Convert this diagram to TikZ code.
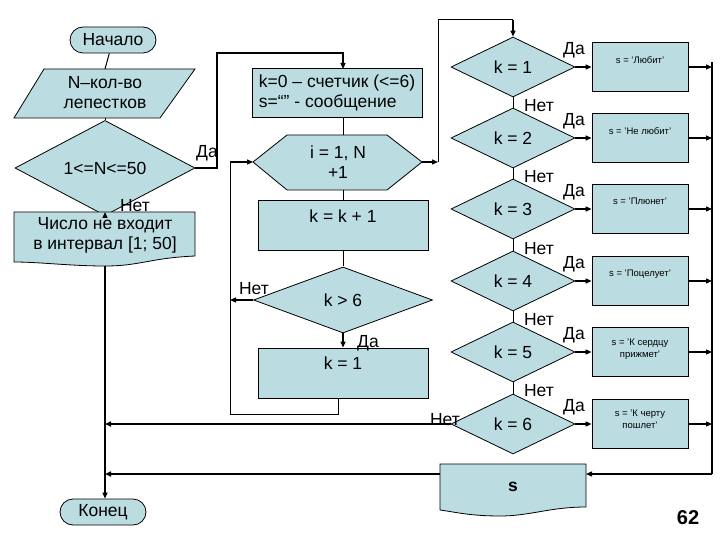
\documentclass[tikz,border=0pt]{standalone}
\usepackage{fontspec}
\setmainfont{Liberation Sans}
\usetikzlibrary{shapes.geometric,arrows.meta}
\definecolor{fl}{RGB}{187,221,226}
\begin{document}
\begin{tikzpicture}[x=1pt,y=-1pt,
  txt/.style={font=\fontsize{17.5}{20}\selectfont,align=center,inner sep=0},
  sm/.style={font=\fontsize{9.5}{12}\selectfont,align=center,inner sep=0},
  lab/.style={font=\fontsize{17.5}{20}\selectfont,inner sep=0},
  box/.style={draw,fill=fl,line width=0.8pt,minimum width=#1,minimum height=49,inner sep=0},
  dia/.style={draw,fill=fl,diamond,line width=0.8pt,minimum width=124,minimum height=60,inner sep=0,font=\fontsize{17.5}{20}\selectfont},
  term/.style={draw,fill=fl,rounded corners=13,line width=0.8pt,minimum width=86,minimum height=26,font=\fontsize{17.5}{20}\selectfont},
  ln/.style={line width=1pt},
  ar/.style={line width=1.3pt,-{Triangle[length=6pt,width=5pt]}}]
\useasboundingbox (0,0) rectangle (720,540);
\fill[white] (0,0) rectangle (720,540);
% left column
\node[term] (start) at (113,40) {Начало};
\draw[fill=fl,line width=0.8pt] (44,69) -- (195,69) -- (160,118) -- (14,118) -- cycle;
\node[txt] (inp) at (105,93) {N–кол-во\\лепестков};
\node[draw,fill=fl,diamond,line width=0.8pt,minimum width=180,minimum height=65,inner sep=0,font=\fontsize{17.5}{20}\selectfont] (chk) at (105,168) {1<=N<=50};
\draw[fill=fl,line width=0.8pt] (14,212) -- (195,212) -- (195,256) .. controls (150,258) and (140,266) .. (105,266) .. controls (70,266) and (40,262) .. (14,262) -- cycle;
\node[txt] (err) at (105,235) {Число не входит\\в интервал [1; 50]};
\node[term] (fin) at (103,512) {Конец};
\coordinate (errb) at (105,266);
\draw[ln] (start) -- (105,69);
\draw[ln] (105,118) -- (chk.north);
\draw[ar] (chk.south) -- (105,212);
\node[lab] at (135,206) {Нет};
\draw[line width=2pt,-{Triangle[length=6pt,width=5pt]}] (errb) -- (fin.north-|errb);
% init
\node[box=170,font=\fontsize{17.5}{20}\selectfont,align=left] (init) at (337,93) {k=0 – счетчик (<=6)\\s=“” - сообщение};
\draw[ar] (chk.east) -- (217,168) -- (217,53) -- (343,53) -- (343,69);
\node[lab] at (207,153) {Да};
% hexagon
\draw[fill=fl,line width=0.8pt] (253,162) -- (287,135) -- (387,135) -- (422,162) -- (387,190) -- (287,190) -- cycle;
\node[txt] (loop) at (338,162) {i = 1, N\\+1};
\coordinate (hl) at (253,162);
\coordinate (hr) at (422,162);
\draw[ln] (343,118) -- (343,135);
\draw[ln] (343,190) -- (343,200);
\node[box=170,minimum height=50] (inc) at (343,225) {};
\node[txt] at (343,216) {k = k + 1};
\draw[ln] (inc.south) -- (343,266);
\node[dia,minimum width=179,minimum height=66] (gt) at (343,300) {k > 6};
\draw[ar] (gt.west) -- (230,300);
\node[lab] at (254,289) {Нет};
\node[box=170,minimum height=50] (k1) at (343,373) {};
\node[txt] at (343,363) {k = 1};
\draw[ar] (gt.south) -- (k1.north);
\node[lab] at (368,343) {Да};
\draw[ln] (338,398) -- (338,414) -- (230,414) -- (230,162);
\draw[ar] (230,162) -- (hl);
% right column
\draw[ar] (hr) -- (438,162);
\draw[ln] (438,162) -- (438,20) -- (513,20);
\foreach \i/\y in {1/67,2/138,3/209,4/281,5/352,6/424}{
  \node[dia] (d\i) at (513,\y) {k = \i};
  \node[box=96] (b\i) at (640,\y) {};
  \draw[ar] (d\i.east) -- (b\i.west);
  \node[lab] at (574,\y-17) {Да};
  \draw[ar] (b\i.east) -- (712,\y);
}
\node[sm,anchor=north] at (640,56) {s = 'Любит'};
\node[sm,anchor=north] at (640,127) {s = 'Не любит'};
\node[sm,anchor=north] at (640,198) {s = 'Плюнет'};
\node[sm,anchor=north] at (640,270) {s = 'Поцелует'};
\node[sm,anchor=north] at (640,339) {s = 'К сердцу\\прижмет'};
\node[sm,anchor=north] at (640,410) {s = 'К черту\\пошлет'};
\draw[ar] (513,20) -- (d1.north);
\foreach \a/\b/\y in {1/2/106,2/3/177,3/4/249,4/5/320,5/6/391}{
  \draw[ln] (d\a.south) -- (d\b.north);
  \node[lab] at (539,\y) {Нет};
}
% output s
\draw[fill=fl,line width=0.8pt] (440,464) -- (586,464) -- (586,507) .. controls (550,507) and (530,516) .. (500,516) .. controls (470,516) and (455,512) .. (440,510) -- cycle;
\node[txt,font=\bfseries\fontsize{17.5}{20}\selectfont] (s) at (513,487) {s};
\draw[line width=2pt] (712,62) -- (712,474);
\draw[ar] (712,474) -- (586,474);
\draw[line width=2pt,-{Triangle[length=6pt,width=5pt]}] (440,474) -- (105,474);
\draw[line width=2pt,-{Triangle[length=6pt,width=5pt]}] (d6.west) -- (105,424);
\node[lab] at (445,420) {Нет};
\node[font=\bfseries\fontsize{20}{22}\selectfont] at (688,518) {62};
\end{tikzpicture}
\end{document}
